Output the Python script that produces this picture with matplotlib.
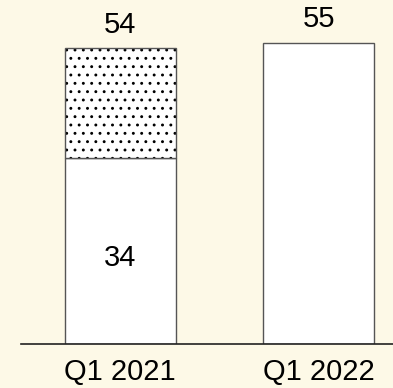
import numpy as np
import matplotlib.pyplot as plt

plt.rcParams['font.family'] = ['Liberation Sans', 'DejaVu Sans']

# data
categories = ['Q1 2021', 'Q1 2022']
base_vals = [34, 55]
extra_vals = [20, 0]
totals = [54, 55]

bg = '#FDF9E7'
fig = plt.figure(figsize=(3.93, 3.88), dpi=100, facecolor=bg)
ax = fig.add_axes([21 / 393, 1 - 344 / 388, 372 / 393, 344 / 388])
ax.set_facecolor(bg)

index = np.arange(len(categories))
bar_width = 0.56

ax.bar(index, base_vals, bar_width, color='white', edgecolor='#555555', linewidth=1)
plt.rcParams['hatch.linewidth'] = 0.9
# dotted segment: black hatch, then gray outline on top
ax.bar(index[:1], extra_vals[:1], bar_width, bottom=base_vals[:1],
       color='white', edgecolor='black', hatch='..', linewidth=0)
ax.bar(index[:1], extra_vals[:1], bar_width, bottom=base_vals[:1],
       fill=False, edgecolor='#555555', linewidth=1)

for i, t in enumerate(totals):
    ax.text(index[i], t + 1.7, str(t), ha='center', va='bottom', fontsize=21)
ax.text(index[0], base_vals[0] / 2 - 1.3, str(base_vals[0]), ha='center', va='center', fontsize=21)

ax.set_xlim(-0.5, 1.375)
ax.set_ylim(0, 62.8)
for s in ['top', 'right', 'left']:
    ax.spines[s].set_visible(False)
ax.spines['bottom'].set_linewidth(1.2)
ax.spines['bottom'].set_color('#222222')
ax.set_yticks([])
ax.set_xticks(index, categories, fontsize=21)
ax.tick_params(axis='x', length=0, pad=10)

fig.savefig('out.png', dpi=100, facecolor=bg)
